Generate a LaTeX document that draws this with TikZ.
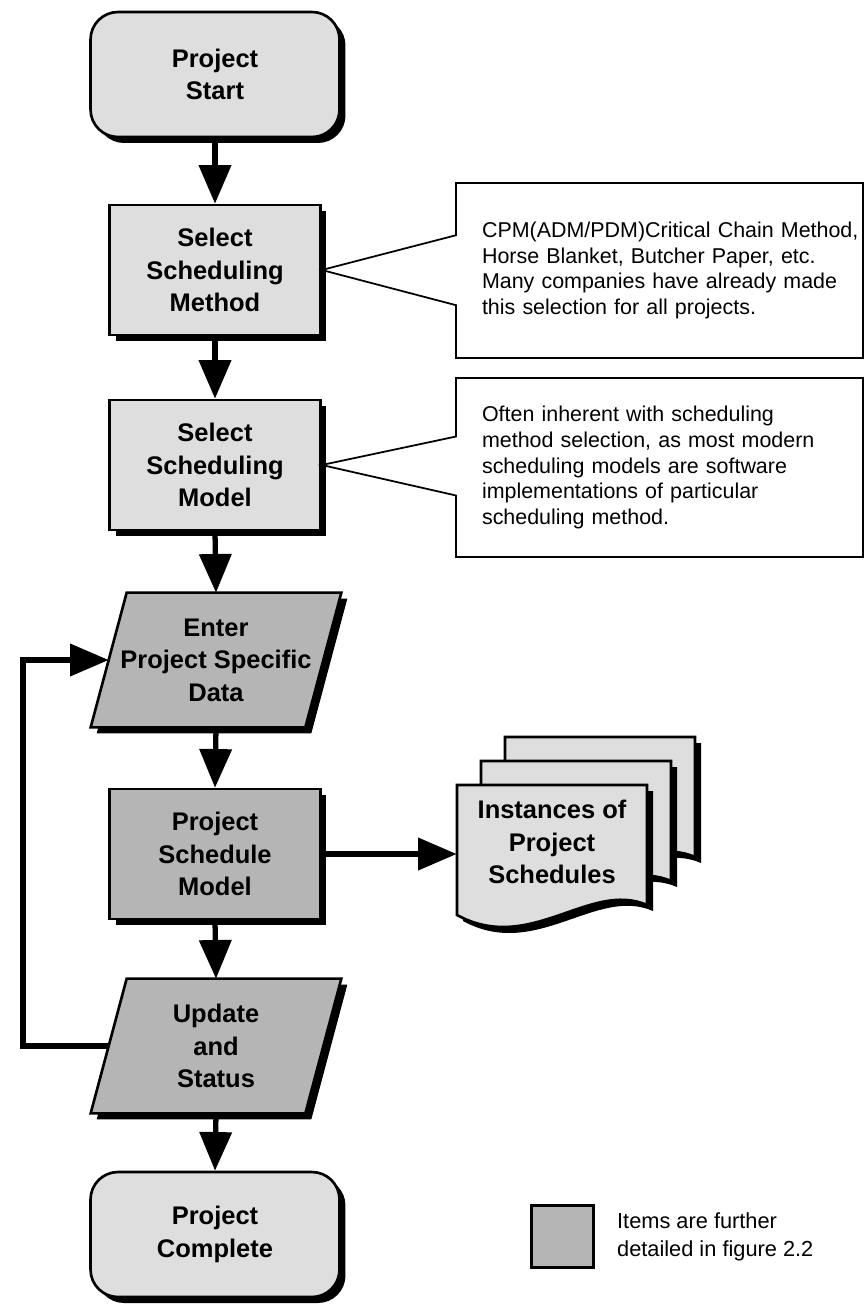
\documentclass[tikz,border=0pt]{standalone}
\usepackage{fontspec}
\setmainfont{Liberation Sans}
\usepackage{tikz}
\usetikzlibrary{
	arrows.meta,
	positioning,
	shapes.callouts,
	shadows,
	backgrounds
}

\definecolor{boxlight}{gray}{0.87}
\definecolor{boxdark}{gray}{0.71}
\newcommand{\boxfont}{\fontsize{14.5}{18.5}\selectfont\bfseries}
\newcommand{\notefont}{\fontsize{12.2}{14.6}\selectfont}
\newcommand{\pagepath}{(457,785) -- (647,785) -- (647,905) .. controls (590,880) and (530,955) .. (457,915) -- cycle}
% 平行四边形（带阴影）
\newcommand{\iobox}[1]{%
	\fill[black] ([xshift=0.48cm,yshift=-0.12cm]#1.north west) -- ([xshift=0.48cm,yshift=-0.12cm]#1.north east)
		-- ([xshift=-0.24cm,yshift=-0.12cm]#1.south east) -- ([xshift=-0.24cm,yshift=-0.12cm]#1.south west) -- cycle;
	\filldraw[fill=boxdark, line width=1.5pt, line join=miter] ([xshift=0.36cm]#1.north west) -- ([xshift=0.36cm]#1.north east)
		-- ([xshift=-0.36cm]#1.south east) -- ([xshift=-0.36cm]#1.south west) -- cycle;}

\begin{document}
\begin{tikzpicture}[x=0.02cm, y=-0.02cm,
		shade/.style={drop shadow={shadow xshift=0.12cm, shadow yshift=-0.12cm, fill=black, opacity=1}},
		terminal/.style={shade, draw, line width=1.5pt, fill=boxlight, rounded corners=0.55cm, minimum width=4.98cm, minimum height=2.5cm, align=center, font=\boxfont},
		process/.style={shade, draw, line width=1.5pt, fill=boxlight, minimum width=4.22cm, minimum height=2.6cm, align=center, font=\boxfont},
		io/.style={minimum width=4.28cm, minimum height=2.68cm, align=center, font=\boxfont},
		note/.style={rectangle callout, draw, line width=1pt, fill=white, text width=7.1cm, inner xsep=0.52cm, minimum width=8.14cm, align=left, font=\notefont},
		flow/.style={line width=3pt, -{Triangle[length=22pt,width=18pt]}},
		page/.style={draw, line width=1.5pt, fill=boxlight}]
		\useasboundingbox (0,0) rectangle (865,1305);
		
		% 主流程
		\node[terminal] (start) at (215,74.5) {Project\\Start};
		\node[process] (method) at (215,270) {Select\\Scheduling\\Method};
		\node[process] (model) at (215,465) {Select\\Scheduling\\Model};
		\node[io] (enter) at (216,660) {Enter\\Project Specific\\Data};
		\node[process, fill=boxdark] (psm) at (215,854) {Project\\Schedule\\Model};
		\node[io] (update) at (216,1046) {Update\\and\\Status};
		\node[terminal] (finish) at (215,1234.5) {Project\\Complete};
		\begin{scope}[on background layer]
			\iobox{enter}
			\iobox{update}
		\end{scope}
		
		\draw[flow] (start.south) -- (method.north);
		\draw[flow] (method.south) -- (model.north);
		\draw[flow] (model.south) -- (enter.north);
		\draw[flow] (enter.south) -- (psm.north);
		\draw[flow] (psm.south) -- (update.north);
		\draw[flow] (update.south) -- (finish.north);
		
		% 回路
		\coordinate (back) at (23,1046);
		\draw[flow] (update.west) -- (back) |- (enter.west);
		
		% 说明框
		\node[note, minimum height=3.5cm, callout absolute pointer=(method.east), callout pointer width=1.4cm] (note1) at (659.5,270.5)
			{\mbox{CPM(ADM/PDM)Critical Chain Method,}\\Horse Blanket, Butcher Paper, etc.\\\mbox{Many companies have already made}\\this selection for all projects.\\[0.35cm]};
		\node[note, minimum height=3.58cm, callout absolute pointer=(model.east), callout pointer width=1.18cm] (note2) at (659.5,467.5)
			{Often inherent with scheduling\\method selection, as most modern\\scheduling models are software\\implementations of particular\\scheduling method.};
		
		% 文档堆
		\foreach \d in {48,24,0}{
			\fill[black, shift={(\d+6,6-\d)}] \pagepath;
			\draw[page, shift={(\d,-\d)}] \pagepath;
		}
		\node[font=\boxfont, align=center, minimum width=3.8cm] (inst) at (552,842) {Instances of\\Project\\Schedules};
		\draw[flow] (psm.east) -- (psm.east -| inst.west);
		
		% 图例
		\node[draw, line width=1.5pt, fill=boxdark, minimum size=1.24cm, inner sep=0pt] (key) at (562.5,1236.5) {};
		\node[right=0.44cm of key, inner sep=0pt, align=left, font=\fontsize{12.4}{15.9}\selectfont] (keytext) {Items are further\\detailed in figure 2.2};
	\end{tikzpicture}
\end{document}
